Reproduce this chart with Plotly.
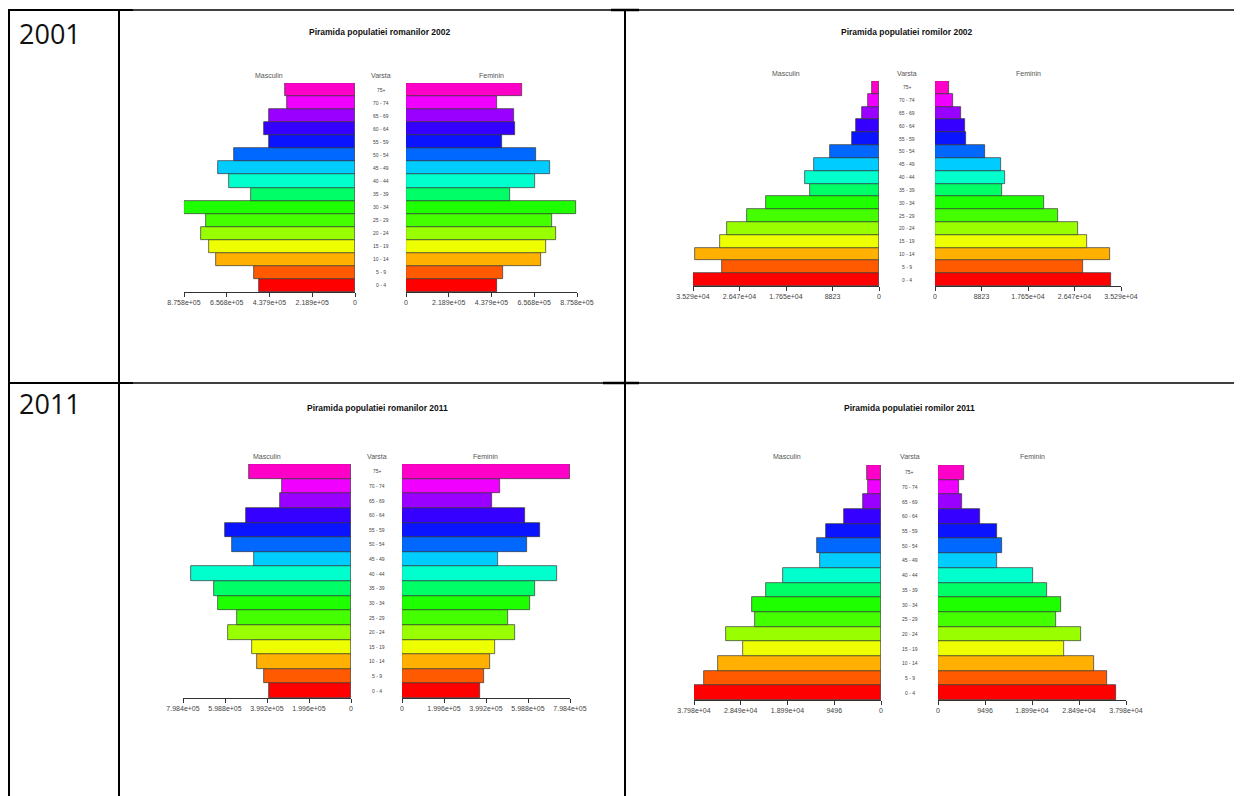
import plotly.graph_objects as go

W, H = 1242, 796
OFF = 8  # page body margin
FW, FH = W - OFF, H - OFF

ages = ["0 - 4", "5 - 9", "10 - 14", "15 - 19", "20 - 24", "25 - 29", "30 - 34", "35 - 39",
        "40 - 44", "45 - 49", "50 - 54", "55 - 59", "60 - 64", "65 - 69", "70 - 74", "75+"]

age_colors = ["#FF0000", "#FF5A00", "#FFB000", "#EEFF00", "#99FF00", "#44FF00", "#1EFF00", "#00FF66",
              "#00FFCC", "#00CCFF", "#0068FF", "#0A14FF", "#3500FF", "#9A00FF", "#F000FF", "#FF00C8"]

# Romanians 2002 (row "2001")
ro2002_m = [490000, 515600, 713600, 749500, 790400, 764800, 875800, 530900,
            645300, 703400, 619700, 440500, 467800, 438800, 346600, 358500]
ro2002_f = [466200, 497000, 689000, 718100, 767800, 749000, 872400, 533000,
            659900, 735300, 665000, 491900, 560500, 553600, 464500, 594700]
# Roma 2002
rr2002_m = [35290, 29768, 34909, 30149, 28752, 25134, 21453, 13012,
            14027, 12377, 9267, 5078, 4380, 3237, 2031, 1396]
rr2002_f = [33393, 28017, 33203, 28776, 27068, 23337, 20681, 12649,
            13218, 12522, 9423, 5882, 5692, 4870, 3352, 2719]
# Romanians 2011
ro2011_m = [390500, 412700, 446000, 468300, 584100, 542800, 633300, 652400,
            758700, 461900, 566700, 598400, 500000, 338100, 328600, 484100]
ro2011_f = [372300, 388100, 416600, 442000, 537000, 505300, 608300, 632100,
            736600, 457800, 592500, 657400, 584500, 426100, 464100, 798400]
# Roma 2011
rr2011_m = [37980, 35885, 33114, 28045, 31492, 25545, 26288, 23450,
            20004, 12367, 12975, 11083, 7501, 3717, 2568, 2771]
rr2011_f = [35896, 34148, 31594, 25544, 28838, 23931, 24939, 22048,
            19292, 11898, 12906, 11965, 8403, 4907, 4302, 5176]

axis_max = [875800, 35290, 798400, 37980]
tick_labels = [
    ["0", "2.189e+05", "4.379e+05", "6.568e+05", "8.758e+05"],
    ["0", "8823", "1.765e+04", "2.647e+04", "3.529e+04"],
    ["0", "1.996e+05", "3.992e+05", "5.988e+05", "7.984e+05"],
    ["0", "9496", "1.899e+04", "2.849e+04", "3.798e+04"],
]
titles = ["Piramida populatiei romanilor 2002", "Piramida populatiei romilor 2002",
          "Piramida populatiei romanilor 2011", "Piramida populatiei romilor 2011"]
row_labels = ["2001", "2011"]

# layout geometry in screen pixels
panels = [
    dict(L=(184, 355), R=(406, 577), yb=292, yt=83, tx=380, ty=32, hy=75, hx=(269, 381, 491)),
    dict(L=(693, 879), R=(935, 1121), yb=286, yt=81, tx=907, ty=32, hy=73, hx=(786, 907, 1028)),
    dict(L=(183, 351), R=(402, 570), yb=698, yt=464, tx=377, ty=408, hy=456, hx=(267, 377, 485)),
    dict(L=(694, 881), R=(938, 1126), yb=700, yt=465, tx=909, ty=408, hy=456, hx=(787, 910, 1032)),
]
series = [(ro2002_m, ro2002_f), (rr2002_m, rr2002_f), (ro2011_m, ro2011_f), (rr2011_m, rr2011_f)]


def fx(p):
    return (p - OFF) / FW


def fy(p):
    return 1 - (p - OFF) / FH


FONT = "Arial, Liberation Sans, sans-serif"
fig = go.Figure()
layout = dict(width=FW, height=FH, autosize=False,
              margin=dict(l=0, r=0, t=0, b=0, pad=0, autoexpand=False),
              paper_bgcolor="white", plot_bgcolor="white", showlegend=False,
              bargap=0, font=dict(family=FONT))
annotations = []
shapes = []

k = 0
for pi, (pn, (m, f)) in enumerate(zip(panels, series)):
    mx = axis_max[pi]
    tv = [mx * q for q in (0, 0.25, 0.5, 0.75, 1.0)]
    for side, vals in (("L", m), ("R", f)):
        k += 1
        xa = "x" if k == 1 else f"x{k}"
        ya = "y" if k == 1 else f"y{k}"
        fig.add_trace(go.Bar(x=vals, y=ages, orientation="h", xaxis=xa, yaxis=ya,
                             width=1, marker=dict(color=age_colors,
                                                  line=dict(color="#333333", width=0.7)),
                             hoverinfo="x+y"))
        d = pn[side]
        layout["xaxis" if k == 1 else f"xaxis{k}"] = dict(
            domain=[fx(d[0]), fx(d[1])],
            range=[mx, 0] if side == "L" else [0, mx],
            anchor=ya, showgrid=False, zeroline=False, showline=True, automargin=False,
            linecolor="#333333", linewidth=1, ticks="outside", ticklen=4,
            tickcolor="#333333", tickwidth=1, tickvals=tv, ticktext=tick_labels[pi],
            tickfont=dict(size=7, color="#444444", family=FONT), fixedrange=True)
        layout["yaxis" if k == 1 else f"yaxis{k}"] = dict(
            domain=[fy(pn["yb"]), fy(pn["yt"])], range=[-0.5, 15.5], automargin=False,
            anchor=xa, visible=False, type="category", categoryorder="array",
            categoryarray=ages, fixedrange=True)
        if side == "L":
            yref_left = ya
    # age labels in the middle column
    for i, a in enumerate(ages):
        annotations.append(dict(x=fx(pn["hx"][1]), y=i, xref="paper", yref=yref_left,
                                xanchor="center", yanchor="middle",
                                text=a, showarrow=False,
                                font=dict(size=5, color="#444444", family=FONT)))
    # title
    annotations.append(dict(x=fx(pn["tx"]), y=fy(pn["ty"]), xref="paper", yref="paper",
                            xanchor="center", yanchor="middle",
                            text="<b>" + titles[pi] + "</b>", showarrow=False,
                            font=dict(size=8.5, color="#111111", family=FONT)))
    for hx, ht in zip(pn["hx"], ("Masculin", "Varsta", "Feminin")):
        annotations.append(dict(x=fx(hx), y=fy(pn["hy"]), xref="paper", yref="paper",
                                xanchor="center", yanchor="middle",
                                text=ht, showarrow=False,
                                font=dict(size=7, color="#555555", family=FONT)))

# table row labels
for lbl, yy in zip(row_labels, (33, 403)):
    annotations.append(dict(x=fx(17), y=fy(yy), xref="paper", yref="paper",
                            xanchor="left", yanchor="middle",
                            text=lbl, showarrow=False,
                            font=dict(size=27, color="#111111", family="Open Sans, sans-serif")))


def line(x0, y0, x1, y1, w):
    shapes.append(dict(type="line", xref="paper", yref="paper",
                       x0=fx(x0), y0=fy(y0), x1=fx(x1), y1=fy(y1),
                       line=dict(color="black", width=w)))


line(8, 10, 1242, 10, 1.5)
line(8, 383, 1242, 383, 1.5)
line(8, 10, 133, 10, 2)
line(8, 383, 133, 383, 2)
line(611, 10, 639, 10, 2.5)
line(603, 383, 639, 383, 2.5)
line(9, 10, 9, 796, 2)
line(119, 10, 119, 796, 2)
line(625, 10, 625, 796, 2)

layout["annotations"] = annotations
layout["shapes"] = shapes
fig.update_layout(**layout)
fig.write_html("out.html")
